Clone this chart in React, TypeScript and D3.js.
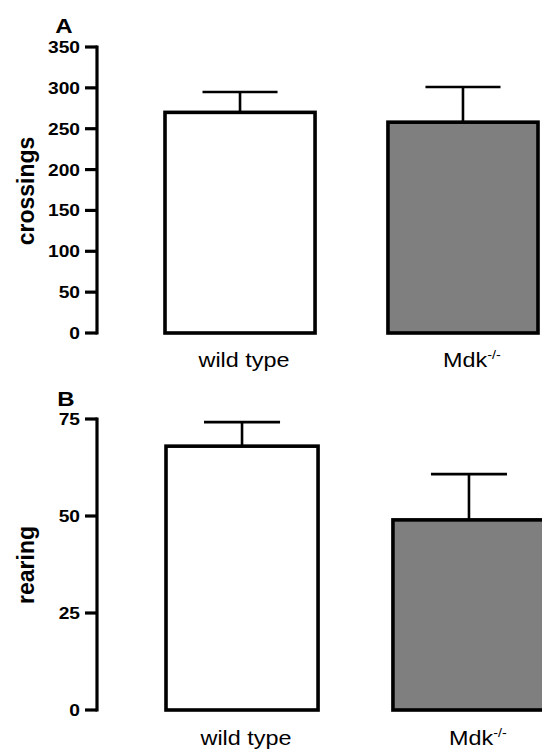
import React from "react";
import * as d3 from "d3";

const categories = ["wild type", "Mdk-/-"];
const crossings = [270, 258];
const crossingsErr = [25, 43];
const rearing = [68, 49];
const rearingErr = [6.2, 11.8];
const crossingsTicks = [0, 50, 100, 150, 200, 250, 300, 350];
const rearingTicks = [0, 25, 50, 75];
const fills = ["#ffffff", "#7f7f7f"];

const FONT = "'Liberation Sans', Arial, Helvetica, sans-serif";
const SX = 1.2;

type PanelProps = {
  letter: string;
  letterX: number;
  letterY: number;
  yLabel: string;
  yLabelY: number;
  values: number[];
  errs: number[];
  ticks: number[];
  yTop: number;
  yBottom: number;
  xRange: [number, number];
  padInner: number;
  labelY: number;
};

function Panel(p: PanelProps) {
  const y = d3.scaleLinear().domain([0, p.ticks[p.ticks.length - 1]]).range([p.yBottom, p.yTop]);
  const x = d3.scaleBand<string>().domain(categories).range(p.xRange).paddingInner(p.padInner).paddingOuter(0);
  const axisX = 97;
  const bw = x.bandwidth();
  return (
    <g>
      <g transform={`translate(${p.letterX},${p.letterY}) scale(${SX},1)`}>
        <text fontFamily={FONT} fontWeight="bold" fontSize={20} textAnchor="middle">
          {p.letter}
        </text>
      </g>
      <text
        transform={`translate(34,${p.yLabelY}) rotate(-90)`}
        fontFamily={FONT}
        fontWeight="bold"
        fontSize={23}
        textAnchor="middle"
      >
        {p.yLabel}
      </text>
      <line x1={axisX} x2={axisX} y1={y(p.ticks[p.ticks.length - 1]) - 1.5} y2={y(0) + 1.5} stroke="#000" strokeWidth={3.2} />
      {p.ticks.map((t) => (
        <g key={t}>
          <line x1={85} x2={axisX} y1={y(t)} y2={y(t)} stroke="#000" strokeWidth={3.2} />
          <g transform={`translate(80,${y(t) + 6}) scale(${SX},1)`}>
            <text fontFamily={FONT} fontWeight="bold" fontSize={16} textAnchor="end">
              {t}
            </text>
          </g>
        </g>
      ))}
      {categories.map((c, i) => {
        const x0 = x(c)!;
        const cx = x0 + bw / 2;
        const top = y(p.values[i]);
        const errTop = y(p.values[i] + p.errs[i]);
        return (
          <g key={c}>
            <line x1={cx} x2={cx} y1={top} y2={errTop} stroke="#000" strokeWidth={2.6} />
            <line x1={cx - bw / 4} x2={cx + bw / 4} y1={errTop} y2={errTop} stroke="#000" strokeWidth={2.6} />
            <rect x={x0} y={top} width={bw} height={y(0) - top} fill={fills[i]} stroke="#000" strokeWidth={3.6} />
            <g transform={`translate(${i === 0 ? cx + 4 : cx + 9},${p.labelY}) scale(${SX},1)`}>
              {i === 0 ? (
                <text fontFamily={FONT} fontSize={19.5} textAnchor="middle">
                  {c}
                </text>
              ) : (
                <text fontFamily={FONT} fontSize={19.5} textAnchor="middle">
                  Mdk
                  <tspan fontSize={12} dy={-8}>
                    -/-
                  </tspan>
                </text>
              )}
            </g>
          </g>
        );
      })}
    </g>
  );
}

export default function App() {
  return (
    <svg width={542} height={750} style={{ position: "absolute", left: 0, top: 0, background: "#fff" }}>
      <rect width={542} height={750} fill="#fff" />
      <Panel
        letter="A"
        letterX={64}
        letterY={33}
        yLabel="crossings"
        yLabelY={191}
        values={crossings}
        errs={crossingsErr}
        ticks={crossingsTicks}
        yTop={47}
        yBottom={333}
        xRange={[165, 538]}
        padInner={0.327}
        labelY={367}
      />
      <Panel
        letter="B"
        letterX={66}
        letterY={406}
        yLabel="rearing"
        yLabelY={565}
        values={rearing}
        errs={rearingErr}
        ticks={rearingTicks}
        yTop={419}
        yBottom={710}
        xRange={[166, 545]}
        padInner={0.33}
        labelY={745}
      />
    </svg>
  );
}
